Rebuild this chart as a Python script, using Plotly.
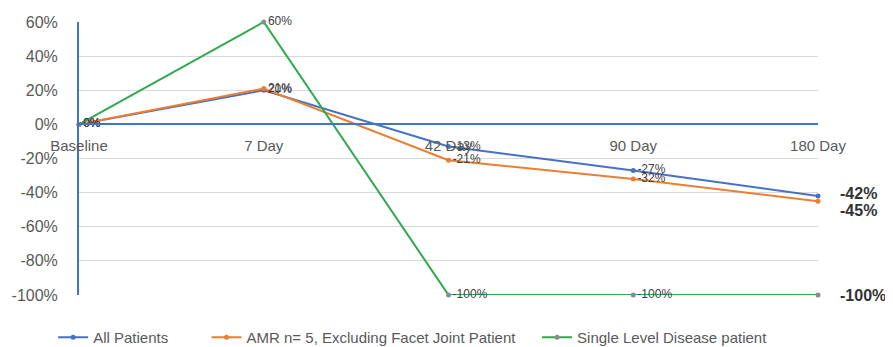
import plotly.graph_objects as go

categories = ["Baseline", "7 Day", "42 Day", "90 Day", "180 Day"]
all_patients = [0, 20, -13, -27, -42]
amr = [0, 21, -21, -32, -45]
single_level = [0, 60, -100, -100, -100]
series_names = ["All Patients", "AMR n= 5, Excluding Facet Joint Patient", "Single Level Disease patient"]
y_ticks = [60, 40, 20, 0, -20, -40, -60, -80, -100]
y_tick_text = [f"{v}%" for v in y_ticks]

BLUE = "#4472C4"
ORANGE = "#ED7D31"
GREEN = "#2DAA4C"
LABEL = "#404040"
FONT = "Liberation Sans"
NB = "\u00a0"

def labels(vals):
    return [f"{v}%" for v in vals[:-1]] + [""]

legend_pad = [NB * 8, NB * 4, ""]

fig = go.Figure()
for i, (name, vals, col, mcol) in enumerate([
    (series_names[0], all_patients, BLUE, BLUE),
    (series_names[1], amr, ORANGE, ORANGE),
    (series_names[2], single_level, GREEN, "#8C8C8C"),
]):
    fig.add_trace(go.Scatter(
        x=categories, y=vals, name=name + legend_pad[i], mode="lines+markers+text",
        line=dict(color=col, width=2),
        marker=dict(color=mcol, size=5, symbol="circle"),
        text=labels(vals), textposition="middle right",
        textfont=dict(size=12, color=LABEL, family=FONT),
        cliponaxis=False,
    ))

# end-of-line bold labels
ends = [(all_patients[-1], 3), (amr[-1], -9), (single_level[-1], 0)]
for v, ys in ends:
    fig.add_annotation(x=categories[-1], y=v, text=f"<b>{v}%</b>", showarrow=False,
                       xanchor="left", xshift=20, yshift=ys,
                       font=dict(size=16, color="#333333", family=FONT))

fig.update_layout(
    width=885, height=339,
    margin=dict(l=71, r=75, t=14, b=52, autoexpand=False),
    paper_bgcolor="white", plot_bgcolor="white",
    showlegend=True,
    legend=dict(orientation="h", x=-0.035, xanchor="left", y=-0.095, yanchor="top",
                font=dict(size=15, color="#595959", family=FONT),
                itemwidth=30),
    xaxis=dict(
        type="category", range=[0, 4], anchor="free", position=100 / 160,
        showline=True, linecolor=BLUE, linewidth=2, showgrid=False,
        ticks="", ticklabelstandoff=8, automargin=False,
        tickfont=dict(size=15, color="#595959", family=FONT),
    ),
    yaxis=dict(
        range=[-100, 60], tickvals=y_ticks, ticktext=y_tick_text,
        showline=True, linecolor=BLUE, linewidth=2,
        showgrid=True, gridcolor="#D9D9D9", gridwidth=1, zeroline=False,
        tickfont=dict(size=16, color="#595959", family=FONT),
        ticks="", ticklabelstandoff=16, automargin=False,
    ),
)

fig.write_html("out.html")
